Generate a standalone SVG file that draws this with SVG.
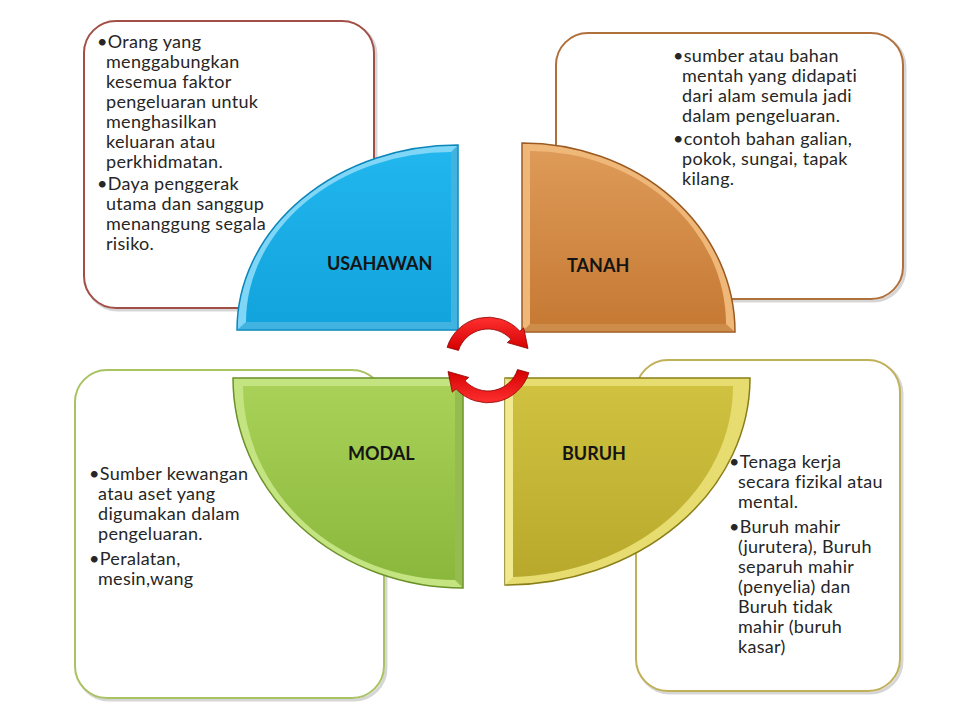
<svg xmlns="http://www.w3.org/2000/svg" width="960" height="720" viewBox="0 0 960 720">
<defs>
<style>
.box{fill:#ffffff;stroke-width:2}
.sh{fill:none;stroke:#8a8a8a;stroke-opacity:0.35;stroke-width:3}
.t{font-family:Lato,"Liberation Sans",sans-serif;font-size:18px;letter-spacing:0.3px;fill:#262626}
.lbl{font-family:Lato,"Liberation Sans",sans-serif;font-size:18px;font-weight:700;fill:#141414}
.arr{fill:url(#gRed);stroke:#8c0000;stroke-width:0.8}
</style>
<linearGradient id="gBlue" x1="0" y1="0" x2="0" y2="1"><stop offset="0" stop-color="#22b6ee"/><stop offset="1" stop-color="#12a4dc"/></linearGradient>
<linearGradient id="gOrange" x1="0" y1="0" x2="0" y2="1"><stop offset="0" stop-color="#de9a58"/><stop offset="1" stop-color="#c67a34"/></linearGradient>
<linearGradient id="gGreen" x1="0" y1="0" x2="0" y2="1"><stop offset="0" stop-color="#a9d158"/><stop offset="1" stop-color="#8ab83c"/></linearGradient>
<linearGradient id="gOlive" x1="0" y1="0" x2="0" y2="1"><stop offset="0" stop-color="#d0c240"/><stop offset="1" stop-color="#b8a92c"/></linearGradient>
<linearGradient id="gRed" x1="0" y1="0" x2="0" y2="1"><stop offset="0" stop-color="#ff3030"/><stop offset="1" stop-color="#d40000"/></linearGradient>
<path id="arrowUp" class="arr" d="M447.1,347.3 A43,43 0 0 1 519.9,331.2 L523.7,327.8 L528,348.5 L507.3,342.6 L511,339.3 A31,31 0 0 0 458.5,350.4 Z"/>
</defs>

<!-- text boxes -->
<g id="box-usahawan">
<rect class="sh" x="86" y="23" width="290" height="287" rx="32"/>
<rect class="box" x="84" y="21" width="290" height="287" rx="32" stroke="#a24f48"/>
</g>
<g id="box-tanah">
<rect class="sh" x="558" y="35" width="347" height="266" rx="32"/>
<rect class="box" x="556" y="33" width="347" height="266" rx="32" stroke="#b0703c"/>
</g>
<g id="box-modal">
<rect class="sh" x="77" y="372" width="309" height="328" rx="32"/>
<rect class="box" x="75" y="370" width="309" height="328" rx="32" stroke="#a9c262"/>
</g>
<g id="box-buruh">
<rect class="sh" x="638" y="362" width="264" height="331" rx="32"/>
<rect class="box" x="636" y="360" width="264" height="331" rx="32" stroke="#c0b058"/>
</g>

<!-- quadrants -->
<g id="usahawan">
<path d="M458,330 L237,330 A221,185 0 0 1 458,145 Z" fill="#7fd6f6" stroke="#0a86ba" stroke-width="1.5"/>
<path d="M451,322 L246,322 A205,170 0 0 1 451,152 Z" fill="url(#gBlue)"/>
<path d="M246,322 L451,322 L451,152 L458,145 L458,330 L237,330 Z" fill="#0f97cf" opacity="0.55"/>
<text class="lbl" x="327" y="270">USAHAWAN</text>
</g>
<g id="tanah">
<path d="M522,143 L522,332 L735,332 A213,189 0 0 0 522,143 Z" fill="#f0b878" stroke="#9a5a22" stroke-width="1.5"/>
<path d="M530,151 L530,324 L726,324 A196,173 0 0 0 530,151 Z" fill="url(#gOrange)"/>
<path d="M530,324 L726,324 L735,332 L522,332 Z" fill="#b86e2c" opacity="0.6"/>
<text class="lbl" x="567" y="272">TANAH</text>
</g>
<g id="modal">
<path d="M463,378 L233,378 A230,210 0 0 0 463,588 Z" fill="#c4e482" stroke="#6a9028" stroke-width="1.5"/>
<path d="M455,386 L243,386 A212,194 0 0 0 455,580 Z" fill="url(#gGreen)"/>
<path d="M455,386 L455,580 L463,588 L463,378 Z" fill="#78a030" opacity="0.6"/>
<text class="lbl" x="348" y="460">MODAL</text>
</g>
<g id="buruh">
<path d="M505,378 L750,378 A245,207 0 0 1 505,585 Z" fill="#e6dc70" stroke="#8a7e18" stroke-width="1.5"/>
<path d="M513,386 L733,386 A228,191 0 0 1 513,577 Z" fill="url(#gOlive)"/>
<path d="M505,378 L513,386 L513,577 L505,585 Z" fill="#f2ec98" opacity="0.8"/>
<text class="lbl" x="562" y="460">BURUH</text>
</g>

<!-- texts -->
<g id="text-usahawan" class="t">
<text x="97" y="48">•Orang yang</text>
<text x="106" y="68">menggabungkan</text>
<text x="106" y="88">kesemua faktor</text>
<text x="106" y="108">pengeluaran untuk</text>
<text x="106" y="128">menghasilkan</text>
<text x="106" y="148">keluaran atau</text>
<text x="106" y="168">perkhidmatan.</text>
<text x="97" y="190">•Daya penggerak</text>
<text x="106" y="210">utama dan sanggup</text>
<text x="106" y="230">menanggung segala</text>
<text x="106" y="250">risiko.</text>
</g>
<g id="text-tanah" class="t">
<text x="673" y="62">•sumber atau bahan</text>
<text x="682" y="82">mentah yang didapati</text>
<text x="682" y="102">dari alam semula jadi</text>
<text x="682" y="122">dalam pengeluaran.</text>
<text x="673" y="145">•contoh bahan galian,</text>
<text x="682" y="165">pokok, sungai, tapak</text>
<text x="682" y="185">kilang.</text>
</g>
<g id="text-modal" class="t">
<text x="89" y="480">•Sumber kewangan</text>
<text x="98" y="500">atau aset yang</text>
<text x="98" y="520">digumakan dalam</text>
<text x="98" y="540">pengeluaran.</text>
<text x="89" y="565">•Peralatan,</text>
<text x="98" y="585">mesin,wang</text>
</g>
<g id="text-buruh" class="t">
<text x="729" y="468">•Tenaga kerja</text>
<text x="738" y="488">secara fizikal atau</text>
<text x="738" y="508">mental.</text>
<text x="729" y="533">•Buruh mahir</text>
<text x="738" y="553">(jurutera), Buruh</text>
<text x="738" y="573">separuh mahir</text>
<text x="738" y="593">(penyelia) dan</text>
<text x="738" y="613">Buruh tidak</text>
<text x="738" y="633">mahir (buruh</text>
<text x="738" y="653">kasar)</text>
</g>

<!-- connectors: cycle arrows -->
<g id="connectors">
<use href="#arrowUp"/>
<use href="#arrowUp" transform="rotate(180 488 360)"/>
</g>
</svg>
